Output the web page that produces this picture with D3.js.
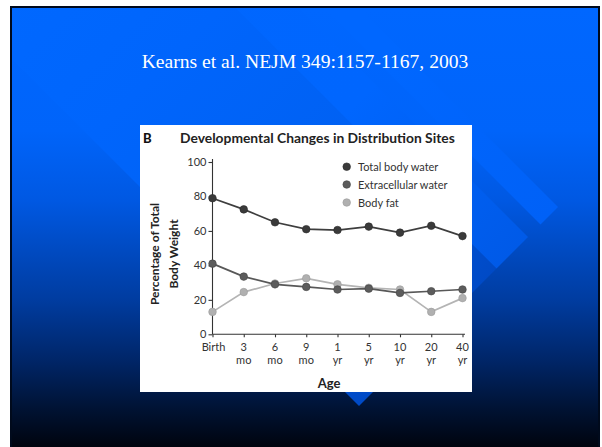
<!DOCTYPE html>
<html>
<head>
<meta charset="utf-8">
<script src="https://cdn.jsdelivr.net/npm/d3@7"></script>
<style>
  html, body { margin: 0; padding: 0; background: #fff; }
  svg { display: block; }
</style>
</head>
<body>
<svg id="chart" width="602" height="447"></svg>
<script>
// ---- data ----
const categories = ["Birth", "3", "6", "9", "1", "5", "10", "20", "40"];
const categoryUnits = ["", "mo", "mo", "mo", "yr", "yr", "yr", "yr", "yr"];
const totalBodyWater = [79, 72.5, 65, 61, 60.5, 62.5, 59, 63, 57];
const extracellularWater = [41, 33.5, 29, 27.5, 26, 26.5, 24, 25, 26];
const bodyFat = [13, 24.5, 29.5, 32.5, 29, 27, 26, 13, 21];
const seriesNames = ["Total body water", "Extracellular water", "Body fat"];
const yTicks = [0, 20, 40, 60, 80, 100];
const slideTitle = "Kearns et al. NEJM 349:1157-1167, 2003";
const chartTitle = "Developmental Changes in Distribution Sites";
const panelLetter = "B";
const yLabelLines = ["Percentage of Total", "Body Weight"];
const xLabel = "Age";

const svg = d3.select("#chart");
const defs = svg.append("defs");

// ---- slide background ----
const bg = defs.append("linearGradient").attr("id", "bgGrad")
  .attr("gradientUnits", "userSpaceOnUse")
  .attr("x1", 0).attr("y1", 8).attr("x2", 0).attr("y2", 447);
[[0, "rgb(0,103,255)"], [0.28, "rgb(0,100,250)"], [0.44, "rgb(0,88,226)"],
 [0.665, "rgb(0,60,160)"], [0.80, "rgb(0,38,105)"], [0.916, "rgb(0,18,50)"], [1, "rgb(0,4,14)"]]
  .forEach(([o, c]) => bg.append("stop").attr("offset", o).attr("stop-color", c));

function diagGrad(id, stops) {
  const g = defs.append("linearGradient").attr("id", id)
    .attr("gradientUnits", "userSpaceOnUse")
    .attr("x1", 0).attr("y1", 0).attr("x2", 382.5).attr("y2", 382.5);
  stops.forEach(([o, c]) => g.append("stop").attr("offset", o).attr("stop-color", c));
}
diagGrad("wideGrad", [[0, "rgb(0,104,255)"], [0.3, "rgb(0,101,252)"], [0.62, "rgb(0,97,243)"], [1, "rgb(0,74,198)"]]);
diagGrad("innerGrad", [[0, "rgb(0,103,255)"], [0.6, "rgb(0,102,254)"], [1, "rgb(0,90,232)"]]);
diagGrad("outerGrad", [[0, "rgb(0,103,255)"], [0.6, "rgb(0,103,255)"], [1, "rgb(0,97,247)"]]);

defs.append("clipPath").attr("id", "slideClip")
  .append("rect").attr("x", 12).attr("y", 8).attr("width", 586).attr("height", 439);

svg.append("rect").attr("x", 10).attr("y", 6).attr("width", 590).attr("height", 441)
  .attr("fill", "#000a1c");
svg.append("rect").attr("x", 12).attr("y", 8).attr("width", 586).attr("height", 439)
  .attr("fill", "url(#bgGrad)");

const bands = svg.append("g").attr("clip-path", "url(#slideClip)");
// band edges are lines x - y = k, capped by x + y = 765
function band(k1, k2, fill) {
  const cap = 765;
  const pts = [[k2, 0], [(cap + k2) / 2, (cap - k2) / 2], [(cap + k1) / 2, (cap - k1) / 2], [k1, 0]];
  if (k1 < 0) pts.splice(3, 1, [0, -k1], [0, 0]);
  bands.append("path").attr("d", d3.line()(pts) + "Z").attr("fill", fill);
}
band(-47, 228, "url(#wideGrad)");
band(228, 291, "url(#innerGrad)");
band(316, 351, "url(#outerGrad)");

svg.append("text").attr("x", 305).attr("y", 68)
  .attr("text-anchor", "middle")
  .attr("font-family", "'Liberation Serif', 'Times New Roman', serif")
  .attr("font-size", 19.6).attr("fill", "#ffffff")
  .text(slideTitle);

// ---- chart panel ----
svg.append("rect").attr("x", 140).attr("y", 125).attr("width", 332).attr("height", 267)
  .attr("fill", "#ffffff");

const chartFont = "Lato, 'Open Sans', sans-serif";
const ink = "#222";

const x = d3.scalePoint().domain(categories).range([212.5, 462.5]);
const y = d3.scaleLinear().domain([0, 100]).range([334.3, 162]);

svg.append("text").attr("x", 143).attr("y", 143)
  .attr("font-family", chartFont).attr("font-weight", 900).attr("font-size", 13)
  .attr("fill", "#111").text(panelLetter);

function fitText(sel, width) {
  const w = sel.node().getComputedTextLength();
  const fs = parseFloat(sel.attr("font-size"));
  const nfs = fs * width / w;
  sel.attr("font-size", nfs);
  return nfs;
}

const ttl = svg.append("text").attr("x", 180).attr("y", 143)
  .attr("font-family", chartFont).attr("font-weight", 700).attr("font-size", 12)
  .attr("fill", ink).text(chartTitle);
fitText(ttl, 275);

// y axis
const yAxis = svg.append("g").attr("transform", `translate(${x(categories[0])},0)`)
  .call(d3.axisLeft(y).tickValues(yTicks).tickSize(4).tickSizeOuter(0).tickPadding(2));
yAxis.select(".domain").attr("d", `M0,${y(0)}V${y(100) - 3}`);
// x axis
const xAxis = svg.append("g").attr("transform", `translate(0,${y(0)})`)
  .call(d3.axisBottom(x).tickSize(3).tickSizeOuter(0).tickFormat(""));
xAxis.select(".domain").attr("d", `M${x(categories[0])},0H${x(categories[categories.length - 1]) + 2.5}`);

[yAxis, xAxis].forEach(a => {
  a.selectAll("path,line").attr("stroke", "#333").attr("stroke-width", 1.1);
  a.selectAll("text").attr("font-family", chartFont).attr("font-size", 11).attr("fill", "#333");
});

// x category labels (two lines)
const xl = svg.append("g").attr("font-family", chartFont).attr("font-size", 11)
  .attr("fill", "#333").attr("text-anchor", "middle");
categories.forEach((c, i) => {
  xl.append("text").attr("x", x(c) + (i === 0 ? 1 : 0)).attr("y", 351).text(c);
  if (categoryUnits[i]) xl.append("text").attr("x", x(c)).attr("y", 363.5).text(categoryUnits[i]);
});

svg.append("text").attr("x", 329).attr("y", 387.5).attr("text-anchor", "middle")
  .attr("font-family", chartFont).attr("font-weight", 700).attr("font-size", 13)
  .attr("fill", ink).text(xLabel);

const ylab = svg.append("g").attr("font-family", chartFont).attr("font-weight", 700)
  .attr("font-size", 12).attr("fill", ink).attr("text-anchor", "middle");
const yl1 = ylab.append("text").attr("transform", "translate(159,254) rotate(-90)").text(yLabelLines[0]);
const yfs = fitText(yl1, 124);
ylab.append("text").attr("transform", "translate(177.5,254) rotate(-90)")
  .attr("font-size", yfs).text(yLabelLines[1]);

// series
const series = [
  { name: seriesNames[2], values: bodyFat, line: "#b4b4b4", dot: "#b0b0b0", stroke: "#9a9a9a" },
  { name: seriesNames[1], values: extracellularWater, line: "#585858", dot: "#5c5c5c", stroke: "#444" },
  { name: seriesNames[0], values: totalBodyWater, line: "#3e3e3e", dot: "#3a3a3a", stroke: "#2a2a2a" }
];
const lineGen = d3.line().x((d, i) => x(categories[i])).y(d => y(d));
series.forEach(s => {
  const g = svg.append("g");
  g.append("path").attr("d", lineGen(s.values)).attr("fill", "none")
    .attr("stroke", s.line).attr("stroke-width", 1.7);
  g.selectAll("circle").data(s.values).join("circle")
    .attr("cx", (d, i) => x(categories[i])).attr("cy", d => y(d)).attr("r", 3.8)
    .attr("fill", s.dot).attr("stroke", s.stroke).attr("stroke-width", 0.6);
});

// legend
const legend = svg.append("g").attr("font-family", chartFont).attr("font-size", 11).attr("fill", "#333");
const legendItems = [series[2], series[1], series[0]];
const legendY = [166.7, 184.5, 202.5];
const legendTexts = [];
legendItems.forEach((s, i) => {
  legend.append("circle").attr("cx", 346.7).attr("cy", legendY[i]).attr("r", 3.8)
    .attr("fill", s.dot).attr("stroke", s.stroke).attr("stroke-width", 0.6);
  legendTexts.push(legend.append("text").attr("x", 358).attr("y", legendY[i] + 4).text(s.name));
});
const lfs = fitText(legendTexts[1], 97);
legendTexts.forEach(t => t.attr("font-size", lfs));
</script>
</body>
</html>
